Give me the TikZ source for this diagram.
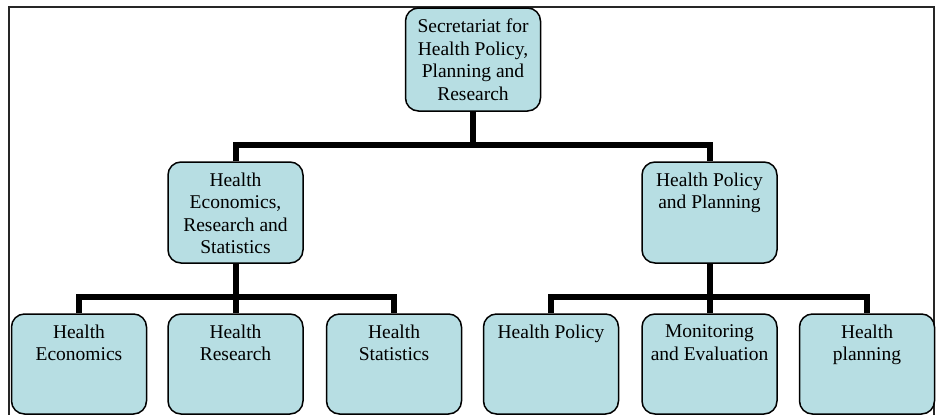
\documentclass[tikz,border=0pt]{standalone}
\usepackage{fontspec}
\setmainfont{Liberation Serif}
\definecolor{boxfill}{RGB}{183,222,227}
\begin{document}
\begin{tikzpicture}[x=1pt,y=-1pt,
  box/.style={draw=black,line width=1.5pt,fill=boxfill,rounded corners=13pt,minimum width=135pt,inner sep=0pt},
  lbl/.style={anchor=north,align=center,inner sep=0pt,font=\fontsize{19.5}{22.5}\selectfont},
  conn/.style={line width=6pt,line join=miter}]
\useasboundingbox (0,0) rectangle (938,415);
\clip (0,0) rectangle (938,415);
\fill[white] (0,0) rectangle (938,415);
\draw[line width=1.5pt,black!85] (9,7) rectangle (934,440);
% connectors
\coordinate (bar1) at (473,145);
\coordinate (bar2) at (235.5,297);
\coordinate (bar3) at (709.5,297);
% boxes
\node[box,minimum height=103pt] (top) at (473,59.5) {};
\node[box,minimum height=101pt] (mL) at (235.5,212.5) {};
\node[box,minimum height=101pt] (mR) at (709.5,212.5) {};
\node[box,minimum height=100pt] (b1) at (79,364) {};
\node[box,minimum height=100pt] (b2) at (235.5,364) {};
\node[box,minimum height=100pt] (b3) at (394,364) {};
\node[box,minimum height=100pt] (b4) at (551,364) {};
\node[box,minimum height=100pt] (b5) at (709.5,364) {};
\node[box,minimum height=100pt] (b6) at (867,364) {};
% connectors
\draw[conn] (top.south) -- (bar1);
\draw[conn] (mL.north) |- (bar1) -| (mR.north);
\draw[conn] (mL.south) -- (bar2);
\draw[conn] (b1.north) |- (bar2) -| (b3.north);
\draw[conn] (bar2) -- (b2.north);
\draw[conn] (mR.south) -- (bar3);
\draw[conn] (b4.north) |- (bar3) -| (b6.north);
\draw[conn] (bar3) -- (b5.north);
% labels
\node[lbl] (topT) at ([yshift=-11.5pt]top.north) {Secretariat for\\Health Policy,\\Planning and\\Research};
\node[lbl] (mLT) at ([yshift=-11.5pt]mL.north) {Health\\Economics,\\Research and\\Statistics};
\node[lbl] (mRT) at ([yshift=-11.5pt]mR.north) {Health Policy\\and Planning};
\node[lbl] (b1T) at ([yshift=-11.5pt]b1.north) {Health\\Economics};
\node[lbl] (b2T) at ([yshift=-11.5pt]b2.north) {Health\\Research};
\node[lbl] (b3T) at ([yshift=-11.5pt]b3.north) {Health\\Statistics};
\node[lbl] (b4T) at ([yshift=-11.5pt]b4.north) {Health Policy};
\node[lbl] (b5T) at ([yshift=-11.5pt]b5.north) {Monitoring\\and Evaluation};
\node[lbl] (b6T) at ([yshift=-11.5pt]b6.north) {Health\\planning};
\end{tikzpicture}
\end{document}
